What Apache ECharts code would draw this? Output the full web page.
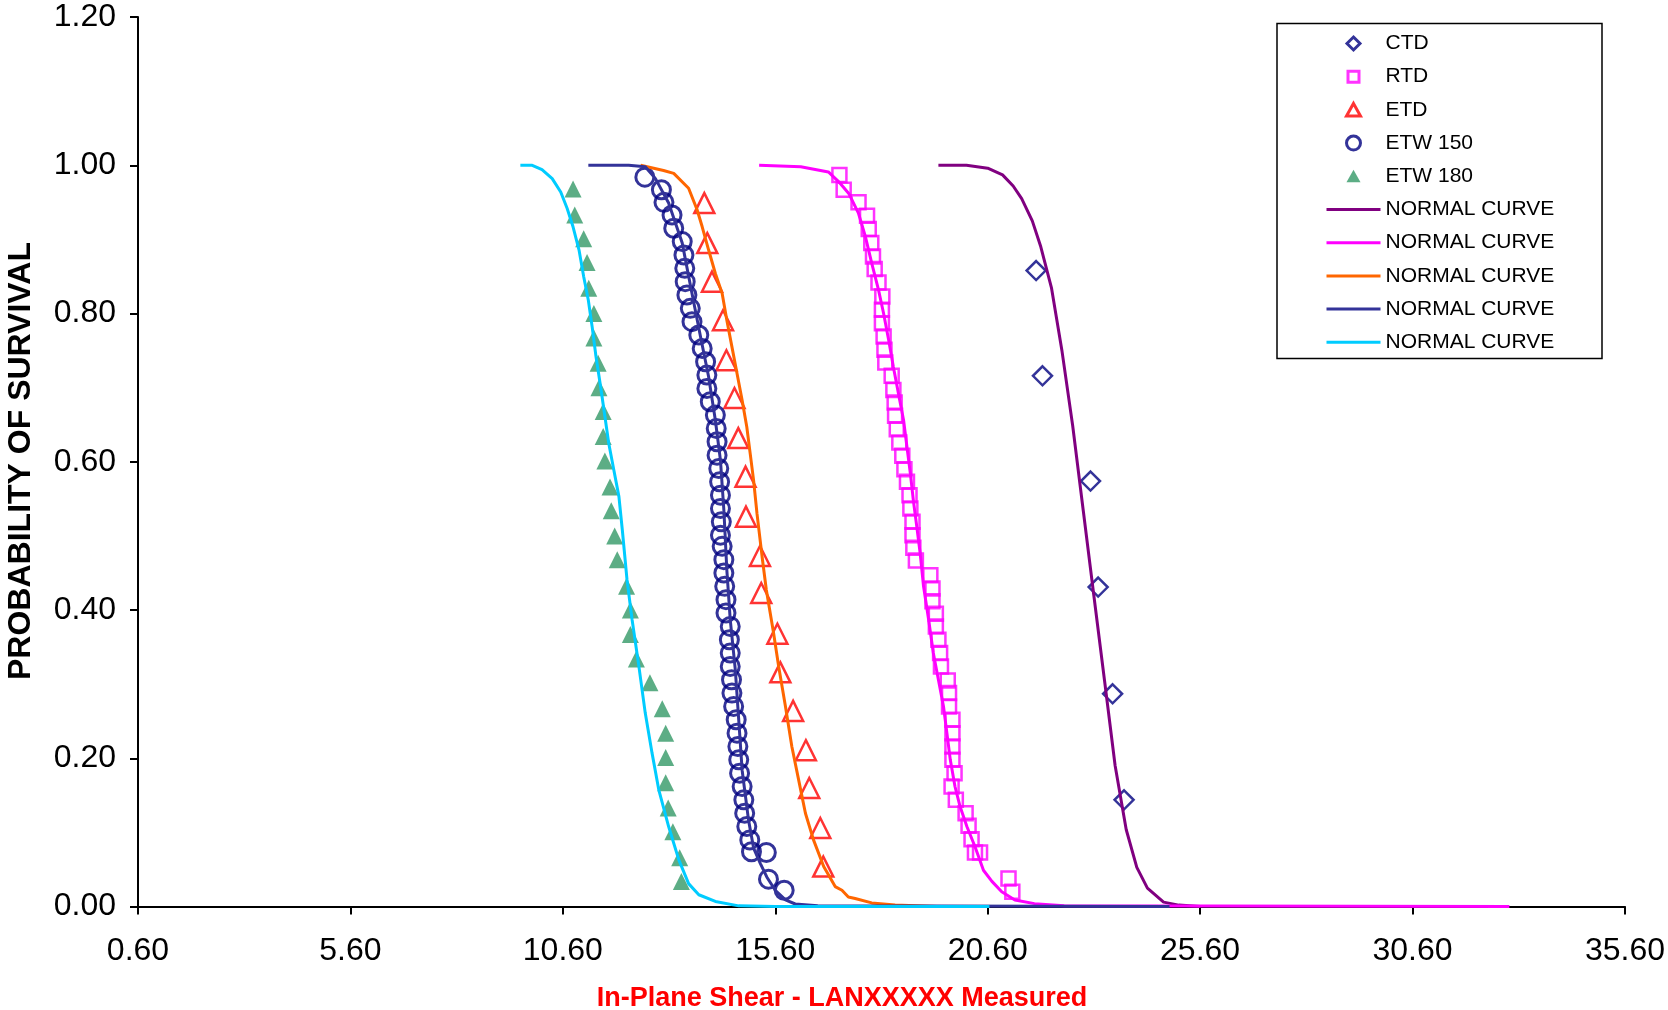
<!DOCTYPE html>
<html><head><meta charset="utf-8">
<script src="https://cdn.jsdelivr.net/npm/echarts@6/dist/echarts.min.js"></script>
<style>html,body{margin:0;padding:0;background:#fff}#c{width:1668px;height:1010px}</style>
</head><body><div id="c"></div>
<script>
// ---------- data ----------
const X_TICKS = ['0.60','5.60','10.60','15.60','20.60','25.60','30.60','35.60'];
const Y_TICKS = ['0.00','0.20','0.40','0.60','0.80','1.00','1.20'];

const CTD_X = [21.74, 21.89, 23.02, 23.20, 23.54, 23.81];
const CTD_Y = [0.858, 0.716, 0.574, 0.431, 0.287, 0.144];

const RTD_X = [17.11,17.21,17.56,17.76,17.80,17.86,17.90,17.94,18.03,18.12,18.11,18.11,18.15,18.17,18.19,18.34,18.38,18.41,18.42,18.46,18.52,18.59,18.64,18.70,18.76,18.78,18.83,
               18.83,18.85,18.91,19.25,19.30,19.30,19.38,19.38,19.44,19.48,19.50,19.66,19.69,19.69,19.77,19.77,19.77,19.77,19.82,19.75,19.85,20.08,20.15,20.22,20.30,20.42,21.09,21.18];
const RTD_Y = [0.987,0.967,0.950,0.932,0.914,0.895,0.877,0.860,0.842,0.823,0.805,0.787,0.769,0.751,0.734,0.716,0.697,0.680,0.662,0.644,0.626,0.608,0.590,0.573,0.555,0.537,0.519,
               0.501,0.484,0.467,0.447,0.429,0.412,0.395,0.378,0.360,0.342,0.324,0.305,0.288,0.270,0.252,0.234,0.216,0.198,0.180,0.162,0.144,0.126,0.109,0.091,0.073,0.073,0.038,0.020];

const ETD_X = [13.93,14.00,14.11,14.37,14.45,14.64,14.73,14.90,14.91,15.24,15.27,15.65,15.72,16.02,16.32,16.40,16.66,16.73];
const ETD_Y = [0.949,0.895,0.843,0.791,0.737,0.686,0.632,0.580,0.526,0.473,0.423,0.368,0.316,0.264,0.211,0.160,0.106,0.054];

const ETW150_X = [12.53,12.92,12.98,13.17,13.21,13.41,13.45,13.47,13.48,13.52,13.60,13.64,13.80,13.88,13.96,13.99,13.99,14.07,14.19,14.21,14.23,14.23,14.27,14.29,14.31,14.31,14.33,
                  14.31,14.35,14.39,14.39,14.41,14.44,14.44,14.54,14.52,14.54,14.54,14.57,14.58,14.62,14.68,14.70,14.72,14.74,14.76,14.82,14.86,14.88,14.93,15.00,15.04,15.39,15.44,15.81];
const ETW150_Y = [0.984,0.967,0.950,0.933,0.915,0.897,0.879,0.861,0.843,0.825,0.807,0.789,0.771,0.753,0.735,0.717,0.699,0.681,0.663,0.645,0.627,0.609,0.591,0.573,0.555,0.537,0.519,
                  0.501,0.486,0.468,0.450,0.432,0.414,0.396,0.378,0.360,0.342,0.324,0.306,0.288,0.270,0.252,0.234,0.216,0.198,0.180,0.162,0.144,0.126,0.108,0.090,0.074,0.073,0.037,0.022];

const ETW180_X = [10.84,10.88,11.09,11.17,11.21,11.33,11.33,11.43,11.45,11.55,11.55,11.59,11.71,11.74,11.82,11.88,12.10,12.19,12.19,12.33,12.65,12.94,13.02,13.02,13.02,13.08,13.19,13.35,13.39];
const ETW180_Y = [0.968,0.933,0.901,0.869,0.834,0.800,0.767,0.733,0.700,0.668,0.634,0.601,0.566,0.534,0.500,0.468,0.432,0.400,0.367,0.334,0.302,0.267,0.234,0.201,0.167,0.133,0.101,0.066,0.034];

// normal curves
const NC_CTD_X = [19.44,20.10,20.60,20.95,21.20,21.40,21.65,21.85,22.10,22.35,22.60,22.85,23.10,23.35,23.60,23.86,24.11,24.36,24.74,25.10,25.60];
const NC_CTD_Y = [1.000,1.000,0.996,0.987,0.972,0.955,0.925,0.890,0.835,0.749,0.649,0.534,0.419,0.305,0.190,0.104,0.053,0.025,0.006,0.002,0.000];

const NC_RTD_X = [15.22,16.20,16.85,17.09,17.33,17.56,17.72,17.87,18.03,18.15,18.27,18.38,18.50,18.62,18.70,18.78,18.85,18.93,19.01,19.09,19.21,19.32,19.44,19.56,19.64,19.72,19.83,19.95,20.11,20.30,20.50,20.70,20.93,21.24,21.70,22.40,32.88];
const NC_RTD_Y = [1.000,0.998,0.991,0.978,0.962,0.935,0.904,0.868,0.832,0.800,0.764,0.728,0.692,0.656,0.620,0.584,0.548,0.513,0.477,0.432,0.387,0.342,0.306,0.270,0.234,0.198,0.162,0.135,0.108,0.081,0.049,0.034,0.020,0.009,0.004,0.001,0.000];

const NC_ETD_X = [12.43,12.97,13.21,13.56,13.76,13.88,14.03,14.19,14.35,14.46,14.58,14.70,14.82,14.93,15.01,15.09,15.17,15.29,15.39,15.56,15.68,15.84,15.99,16.15,16.31,16.50,16.74,17.01,17.17,17.32,17.48,17.87,18.42,19.40];
const NC_ETD_Y = [1.000,0.993,0.989,0.969,0.940,0.917,0.886,0.854,0.827,0.791,0.755,0.719,0.683,0.647,0.611,0.575,0.530,0.472,0.427,0.369,0.324,0.270,0.216,0.171,0.126,0.090,0.054,0.027,0.022,0.013,0.011,0.005,0.002,0.000];

const NC_E150_X = [11.20,11.70,12.15,12.54,12.78,13.09,13.41,13.64,13.84,14.03,14.19,14.31,14.39,14.46,14.54,14.66,14.74,14.82,14.97,15.09,15.25,15.40,15.60,15.84,16.07,16.60,24.88];
const NC_E150_Y = [1.000,1.000,1.000,0.998,0.982,0.949,0.895,0.827,0.769,0.715,0.656,0.602,0.535,0.454,0.387,0.319,0.252,0.184,0.117,0.079,0.058,0.040,0.022,0.009,0.0035,0.001,0.000];

const NC_E180_X = [9.60,9.88,10.11,10.35,10.55,10.70,10.84,10.98,11.09,11.20,11.29,11.38,11.49,11.59,11.68,11.80,11.92,12.00,12.11,12.23,12.39,12.54,12.70,12.86,13.09,13.33,13.56,13.80,14.19,14.74,15.60,20.64];
const NC_E180_Y = [1.000,1.000,0.994,0.982,0.964,0.942,0.917,0.886,0.850,0.818,0.782,0.742,0.701,0.661,0.625,0.589,0.553,0.508,0.441,0.387,0.324,0.261,0.207,0.157,0.108,0.063,0.031,0.016,0.007,0.001,0.000,0.000];

// ---------- chart ----------
const FONT = "'Liberation Sans', Arial, sans-serif";
const pairs = (xs, ys) => xs.map((x, i) => [x, ys[i]]);
const hollow = (c, w) => ({ color: 'rgba(0,0,0,0)', borderColor: c, borderWidth: w });
const NONE = { color: 'rgba(0,0,0,0)', borderColor: 'rgba(0,0,0,0)', borderWidth: 0 };

function scatter(name, xs, ys, symbol, size, itemStyle) {
  return { type: 'scatter', name, data: pairs(xs, ys), symbol, symbolSize: size,
           itemStyle, clip: false, silent: true, emphasis: { disabled: true } };
}
function curve(name, xs, ys, color) {
  return { type: 'line', name, data: pairs(xs, ys), symbol: 'none', showSymbol: false,
           lineStyle: { color, width: 3 }, itemStyle: { color }, clip: false, silent: true,
           emphasis: { disabled: true } };
}

const sCTD = hollow('#000080', 2.5), sRTD = hollow('#FF00FF', 2.5), sETD = hollow('#FF0000', 2.5),
      sE150 = hollow('#000080', 3), sE180 = { color: '#339966' };

const series = [
  scatter('CTD', CTD_X, CTD_Y, 'diamond', 19, sCTD),
  scatter('RTD', RTD_X, RTD_Y, 'rect', 14, sRTD),
  scatter('ETD', ETD_X, ETD_Y, 'triangle', 20, sETD),
  scatter('ETW 150', ETW150_X, ETW150_Y, 'circle', 18, sE150),
  scatter('ETW 180', ETW180_X, ETW180_Y, 'triangle', 17, sE180),
  curve('NORMAL CURVE #1', NC_CTD_X, NC_CTD_Y, '#800080'),
  curve('NORMAL CURVE #2', NC_RTD_X, NC_RTD_Y, '#FF00FF'),
  curve('NORMAL CURVE #3', NC_ETD_X, NC_ETD_Y, '#FF6600'),
  curve('NORMAL CURVE #4', NC_E150_X, NC_E150_Y, '#333399'),
  curve('NORMAL CURVE #5', NC_E180_X, NC_E180_Y, '#00CCFF')
];

// legend icons: symbol centred in a 54x14 box (degenerate corner segments fix the box)
const BOX = 'M0,0L0,0M54,14L54,14';
const ICON_DIAMOND = 'path://' + BOX + 'M27,0.5L33.5,7L27,13.5L20.5,7Z';
const ICON_SQUARE  = 'path://' + BOX + 'M21.5,1.5L32.5,1.5L32.5,12.5L21.5,12.5Z';
const ICON_TRI     = 'path://' + BOX + 'M27,0.5L34,13L20,13Z';

const legendData = [
  { name: 'CTD', icon: ICON_DIAMOND, itemStyle: hollow('#000080', 3) },
  { name: 'RTD', icon: ICON_SQUARE, itemStyle: hollow('#FF00FF', 3) },
  { name: 'ETD', icon: ICON_TRI, itemStyle: hollow('#FF0000', 3) },
  { name: 'ETW 150', icon: 'circle', itemStyle: hollow('#000080', 3) },
  { name: 'ETW 180', icon: ICON_TRI, itemStyle: { color: '#339966', borderWidth: 0 } }
].concat(series.slice(5).map(s => ({ name: s.name, itemStyle: NONE,
  lineStyle: { width: 3, color: s.lineStyle.color } })));

const axisCommon = {
  type: 'value',
  axisLine: { show: true, lineStyle: { color: '#000', width: 2 } },
  axisTick: { show: true, length: 8, lineStyle: { color: '#000', width: 2 } },
  splitLine: { show: false },
  axisLabel: { color: '#000', fontSize: 32, fontFamily: FONT }
};

const chart = echarts.init(document.getElementById('c'), null, { renderer: 'canvas' });
chart.setOption({
  animation: false,
  backgroundColor: '#fff',
  grid: { left: 138, right: 42.5, top: 17, bottom: 103.4, containLabel: false },
  xAxis: Object.assign({}, axisCommon, {
    min: 0.6, max: 35.6, interval: 5,
    axisLabel: Object.assign({}, axisCommon.axisLabel, { margin: 29,
      formatter: v => X_TICKS[Math.round((v - 0.6) / 5)] || v.toFixed(2) })
  }),
  yAxis: Object.assign({}, axisCommon, {
    min: 0, max: 1.2, interval: 0.2,
    axisLabel: Object.assign({}, axisCommon.axisLabel, { margin: 22,
      formatter: v => Y_TICKS[Math.round(v / 0.2)] || v.toFixed(2) })
  }),
  legend: {
    orient: 'vertical', left: 1325, top: 33, padding: 0,
    itemWidth: 54, itemHeight: 14, itemGap: 12.2,
    itemStyle: { borderWidth: 3 },
    textStyle: { fontSize: 21, lineHeight: 21, fontFamily: FONT, color: '#000' },
    formatter: n => n.replace(/ #\d+$/, ''),
    selectedMode: false,
    data: legendData
  },
  graphic: [
    { type: 'rect', silent: true, shape: { x: 1277, y: 23.5, width: 325, height: 335 },
      style: { fill: 'none', stroke: '#000', lineWidth: 1.5 } },
    { type: 'text', silent: true, x: 21, y: 461, rotation: Math.PI / 2,
      style: { text: 'PROBABILITY OF SURVIVAL', fontSize: 32, fontWeight: 'bold', fontFamily: FONT,
               fill: '#000', align: 'center', verticalAlign: 'middle' } },
    { type: 'text', silent: true, x: 842, y: 999,
      style: { text: 'In-Plane Shear - LANXXXXX Measured', fontSize: 27, fontWeight: 'bold', fontFamily: FONT,
               fill: '#FF0000', align: 'center', verticalAlign: 'middle' } }
  ],
  series
});
</script>
</body></html>
